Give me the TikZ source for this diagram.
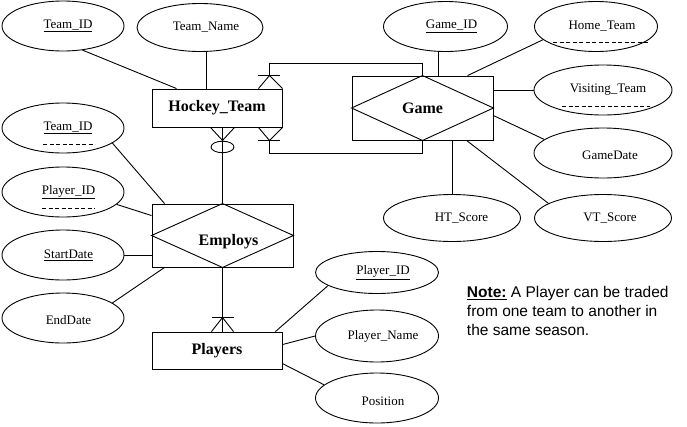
\documentclass[tikz,border=0pt]{standalone}
\usepackage{fontspec}
\setmainfont{Liberation Serif}
\newfontfamily\notefont{Liberation Sans}
\usetikzlibrary{shapes.geometric,calc}
\begin{document}
\begin{tikzpicture}[x=1pt,y=-1pt,line width=0.9pt,
  entfont/.style={font=\fontsize{16}{18}\selectfont\bfseries},
  ent/.style={draw,rectangle,inner sep=0,entfont},
  attr/.style={draw,ellipse,inner sep=0},
  lbl/.style={font=\fontsize{13}{15}\selectfont,inner sep=0},
  dsh/.style={dash pattern=on 4pt off 2.5pt}]
\useasboundingbox (0,0) rectangle (687,426);

% entities and relationships
\node[ent,minimum width=130,minimum height=38] (ht) at (217,108) {Hockey\_Team};
\node[ent,minimum width=141,minimum height=64] (game) at (422.5,108) {Game};
\draw (game.west) -- (game.north) -- (game.east) -- (game.south) -- cycle;
\node[ent,minimum width=141,minimum height=63] (emp) at (222.5,235.5) {};
\draw (emp.west) -- (emp.north) -- (emp.east) -- (emp.south) -- cycle;
\node[entfont,inner sep=0] (empt) at (228.5,242) {Employs};
\node[ent,minimum width=130,minimum height=37] (pl) at (217,350.5) {Players};

% attributes
\node[attr,minimum width=122,minimum height=50,label={[lbl,xshift=5]center:\underline{Team\_ID}}] (tid1) at (63,26) {};
\node[attr,minimum width=126,minimum height=48,label={[lbl,xshift=6]center:Team\_Name}] (tname) at (200,27.5) {};
\node[attr,minimum width=122,minimum height=50,label={[lbl,xshift=5]center:\underline{Team\_ID}}] (tid2) at (63,128) {};
\node[attr,minimum width=122,minimum height=50,label={[lbl,xshift=5.5]center:\underline{Player\_ID}}] (pid1) at (63,192) {};
\node[attr,minimum width=122,minimum height=50,label={[lbl,xshift=5.5]center:\underline{StartDate}}] (sd) at (63,255) {};
\node[attr,minimum width=122,minimum height=50,label={[lbl,xshift=5.5,yshift=-2]center:EndDate}] (ed) at (63,318) {};
\node[attr,minimum width=124,minimum height=50,label={[lbl,xshift=6]center:\underline{Game\_ID}}] (gid) at (445.5,26.5) {};
\node[attr,minimum width=123,minimum height=50,label={[lbl,xshift=6]center:Home\_Team}] (home) at (596,26.5) {};
\node[attr,minimum width=138,minimum height=50,label={[lbl,xshift=5]center:Visiting\_Team}] (vis) at (603,90) {};
\node[attr,minimum width=138,minimum height=50,label={[lbl,xshift=7,yshift=-2]center:GameDate}] (gdate) at (603,153) {};
\node[attr,minimum width=137,minimum height=47,label={[lbl,xshift=9.5]center:HT\_Score}] (hts) at (452,218) {};
\node[attr,minimum width=137,minimum height=47,label={[lbl,xshift=7]center:VT\_Score}] (vts) at (603,218) {};
\node[attr,minimum width=123,minimum height=42,label={[lbl,xshift=6]center:\underline{Player\_ID}}] (pid2) at (377,272.5) {};
\node[attr,minimum width=123,minimum height=52,label={[lbl,xshift=6]center:Player\_Name}] (pname) at (377,336) {};
\node[attr,minimum width=123,minimum height=50,label={[lbl,xshift=6,yshift=-3]center:Position}] (pos) at (377,398) {};

% dashed (foreign key) marks
\draw[dsh] ($(tid2.center)+(-20,16)$) -- ++(52,0);
\draw[dsh] ($(pid1.center)+(-21,16.3)$) -- ++(53,0);
\draw[dsh] ($(home.center)+(-43,15.5)$) -- ++(95,0);
\draw[dsh] ($(vis.center)+(-41,16.7)$) -- ++(88,0);

% attribute connectors
\draw (tid1.-51) -- ($(ht.north west)+(25,0)$);
\draw ($(tname.south)+(6,0)$) coordinate (tn) -- (tn |- ht.north);
\draw (tid2.-17) -- ($(emp.north west)+(13,0)$);
\draw (pid1.-13) -- ($(emp.north west)+(0,12)$);
\draw (sd.east) -- (sd.east -| emp.west);
\draw (ed.17) -- ($(emp.south west)+(13,0)$);
\draw ($(gid.south)+(-7,0)$) coordinate (gi) -- (gi |- game.north);
\draw (home.194) -- ($(game.north west)+(116,0)$);
\draw (vis.west) -- (vis.west -| game.east);
\draw (gdate.167) -- ($(game.north east)+(0,40)$);
\draw (hts.north) -- (hts.north |- game.south);
\draw (vts.165) -- ($(game.south west)+(115,0)$);
\draw ($(pl.north east)+(-7,0)$) -- (pid2.195);
\draw ($(pl.north east)+(0,13)$) -- (pname.west);
\draw ($(pl.north east)+(0,32)$) -- (pos.166);

% Hockey_Team -- Game (two relationships with crow's feet)
\coordinate (cf1) at ($(ht.north east)+(-13,-13)$);
\draw (cf1) -- (ht.north east) (cf1) -- ($(ht.north east)+(-24,0)$);
\draw ($(cf1)+(-11,0)$) -- ($(cf1)+(11,0)$);
\draw (cf1) -- ++(0,-12) -| (game.north);
\coordinate (cf2) at ($(ht.south east)+(-13,13)$);
\draw (cf2) -- (ht.south east) (cf2) -- ($(ht.south east)+(-24,0)$);
\draw ($(cf2)+(-11,0)$) -- ($(cf2)+(11,0)$);
\draw (cf2) -- ++(0,13) -| (game.south);

% Hockey_Team -- Employs
\draw (emp.north) -- (emp.north |- ht.south);
\coordinate (cf3) at ($(emp.north |- ht.south)+(0,13)$);
\draw (cf3) -- ++(-12,-13) (cf3) -- ++(12,-13);
\node[draw,ellipse,inner sep=0,minimum width=23,minimum height=11.5] (opt) at ($(cf3)+(0,6.5)$) {};

% Employs -- Players
\draw (emp.south) -- (emp.south |- pl.north);
\coordinate (cf4) at ($(emp.south |- pl.north)+(0,-14)$);
\draw (cf4) -- ++(-11,14) (cf4) -- ++(11,14);
\draw ($(cf4)+(-11,0)$) -- ($(cf4)+(11,0)$);

% note
\node[anchor=north west,align=left,inner sep=0,font=\notefont\fontsize{15.5}{19}\selectfont] (note) at (466.5,286)
  {\underline{\textbf{Note:}} A Player can be traded\\from one team to another in\\the same season.};
\end{tikzpicture}
\end{document}
